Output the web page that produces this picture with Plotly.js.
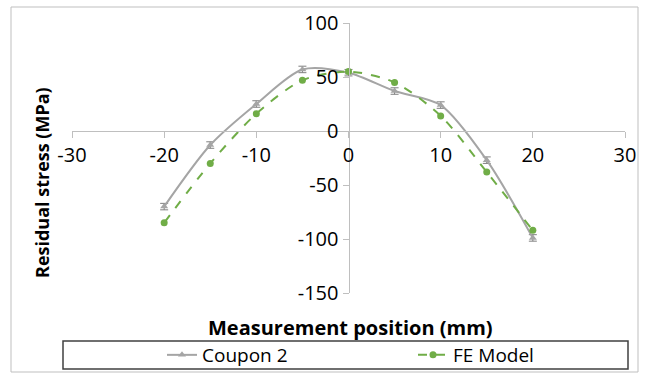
<!DOCTYPE html>
<html><head><meta charset="utf-8">
<script src="https://cdn.plot.ly/plotly-3.0.1.min.js"></script>
<style>html,body{margin:0;padding:0;background:#fff}#chart{width:649px;height:381px}</style>
</head><body><div id="chart"></div>
<script>
var positions = [-20, -15, -10, -5, 0, 5, 10, 15, 20];
var coupon2 = [-70, -13, 25, 57, 54, 37, 24, -27, -99];
var coupon2Err = [3, 3, 3, 3, 3, 3, 3, 3, 3];
var feModel = [-85, -30, 16, 47, 55, 45, 14, -38, -92];
var xTicks = [-30, -20, -10, 0, 10, 20, 30];
var yTicks = [-150, -100, -50, 0, 50, 100];

var F = '"Open Sans", "Noto Sans", sans-serif';
var traces = [
  {x: positions, y: coupon2, name: 'Coupon 2', type: 'scatter', mode: 'lines+markers',
   line: {color: '#a5a5a5', width: 2, shape: 'spline', smoothing: 0.8},
   marker: {symbol: 'triangle-up', size: 7, color: '#a5a5a5'},
   error_y: {type: 'data', array: coupon2Err, visible: true, color: '#7f7f7f', thickness: 1, width: 4}},
  {x: positions, y: feModel, name: 'FE Model', type: 'scatter', mode: 'lines+markers',
   line: {color: '#70ad47', width: 2, dash: 'dash', shape: 'spline', smoothing: 0.8},
   marker: {symbol: 'circle', size: 7, color: '#70ad47'}}
];

var layout = {
  width: 649, height: 381,
  margin: {l: 72, r: 24, t: 23, b: 88, autoexpand: false},
  paper_bgcolor: '#fff', plot_bgcolor: '#fff',
  showlegend: true,
  font: {family: F, size: 18, color: '#000'},
  xaxis: {range: [-30, 30], tickvals: xTicks, ticktext: xTicks.map(String),
    anchor: 'free', position: 0.6, showgrid: false, zeroline: false, automargin: false,
    showline: true, linecolor: '#bfbfbf', linewidth: 1,
    ticks: 'outside', ticklen: 6, tickcolor: '#bfbfbf', tickfont: {family: F, size: 20, color: '#000'}},
  yaxis: {range: [-150, 100], tickvals: yTicks, ticktext: yTicks.map(String),
    anchor: 'free', position: 0.5, showgrid: false, zeroline: false, automargin: false,
    showline: true, linecolor: '#bfbfbf', linewidth: 1,
    ticks: 'outside', ticklen: 6, tickcolor: '#bfbfbf', tickfont: {family: F, size: 20, color: '#000'}},
  legend: {orientation: 'h', x: (162 - 72) / 553, xanchor: 'left', y: (293 - 355) / 270, yanchor: 'middle',
    bgcolor: 'rgba(0,0,0,0)', borderwidth: 0, font: {family: F, size: 19, color: '#000'},
    entrywidth: 206, entrywidthmode: 'pixels', itemwidth: 30},
  annotations: [
    {text: '<b>Measurement position (mm)</b>', xref: 'paper', yref: 'paper',
     x: (350 - 72) / 553, y: (293 - 327) / 270, xanchor: 'center', yanchor: 'middle',
     showarrow: false, font: {family: F, size: 20, color: '#000'}},
    {text: '<b>Residual stress (MPa)</b>', xref: 'paper', yref: 'paper', textangle: -90,
     x: (42 - 72) / 553, y: (293 - 183) / 270, xanchor: 'center', yanchor: 'middle',
     showarrow: false, font: {family: F, size: 18, color: '#000'}}
  ],
  shapes: [
    {type: 'rect', xref: 'paper', yref: 'paper', x0: (11 - 72) / 553, x1: (638 - 72) / 553,
     y0: (293 - 372) / 270, y1: (293 - 7) / 270, line: {color: '#bfbfbf', width: 1}},
    {type: 'rect', xref: 'paper', yref: 'paper', x0: (63 - 72) / 553, x1: (628 - 72) / 553,
     y0: (293 - 369) / 270, y1: (293 - 341) / 270, line: {color: '#404040', width: 1.5}}
  ]
};
Plotly.newPlot('chart', traces, layout, {displayModeBar: false, staticPlot: true});
</script></body></html>
